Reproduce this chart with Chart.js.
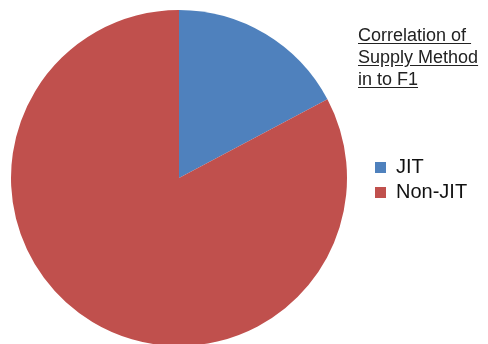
<!DOCTYPE html>
<html>
<head>
<meta charset="utf-8">
<script src="https://cdn.jsdelivr.net/npm/chart.js@4/dist/chart.umd.min.js"></script>
<style>
  html, body { margin: 0; padding: 0; background: #fff; overflow: hidden; }
  #wrap { position: relative; width: 488px; height: 344px; overflow: hidden; }
  #chartCanvas { position: absolute; left: 0; top: 0; }
  #title {
    position: absolute; left: 358px; top: 24px;
    font-family: "Liberation Sans", Arial, sans-serif; font-size: 18px; line-height: 22px;
    color: #222; text-decoration: underline; text-underline-offset: 2px; white-space: pre;
  }
  #legend {
    position: absolute; left: 375px; top: 154px;
    font-family: "Liberation Sans", Arial, sans-serif; font-size: 20px; color: #111;
  }
  .item { position: relative; height: 25px; line-height: 25px; padding-left: 21px; }
  .swatch { position: absolute; left: 0; top: 8px; width: 11px; height: 11px; }
</style>
</head>
<body>
<div id="wrap">
  <canvas id="chartCanvas" width="488" height="346"></canvas>
  <div id="title"></div>
  <div id="legend"></div>
</div>
<script>
// ── Data ──
var titleLines = ['Correlation of ', 'Supply Method', 'in to F1'];
var categories = ['JIT', 'Non-JIT'];
var values = [5, 24];
var colors = ['#4F81BD', '#C0504D'];

(function() {

  // ── Title ──
  document.getElementById('title').textContent = titleLines.join('\n');

  // ── Legend ──
  var legend = document.getElementById('legend');
  categories.forEach(function(name, i) {
    var row = document.createElement('div');
    row.className = 'item';
    var sw = document.createElement('span');
    sw.className = 'swatch';
    sw.style.background = colors[i];
    row.appendChild(sw);
    row.appendChild(document.createTextNode(name));
    legend.appendChild(row);
  });

  // ── Pie ──
  var ctx = document.getElementById('chartCanvas').getContext('2d');
  new Chart(ctx, {
    type: 'pie',
    data: {
      labels: categories,
      datasets: [{
        data: values,
        backgroundColor: colors,
        borderWidth: 0
      }]
    },
    options: {
      responsive: false,
      animation: false,
      layout: { padding: { left: 11, right: 141, top: 10, bottom: 0 } },
      plugins: {
        legend: { display: false },
        title: { display: false },
        tooltip: { enabled: false }
      }
    }
  });

})();
</script>
</body>
</html>
